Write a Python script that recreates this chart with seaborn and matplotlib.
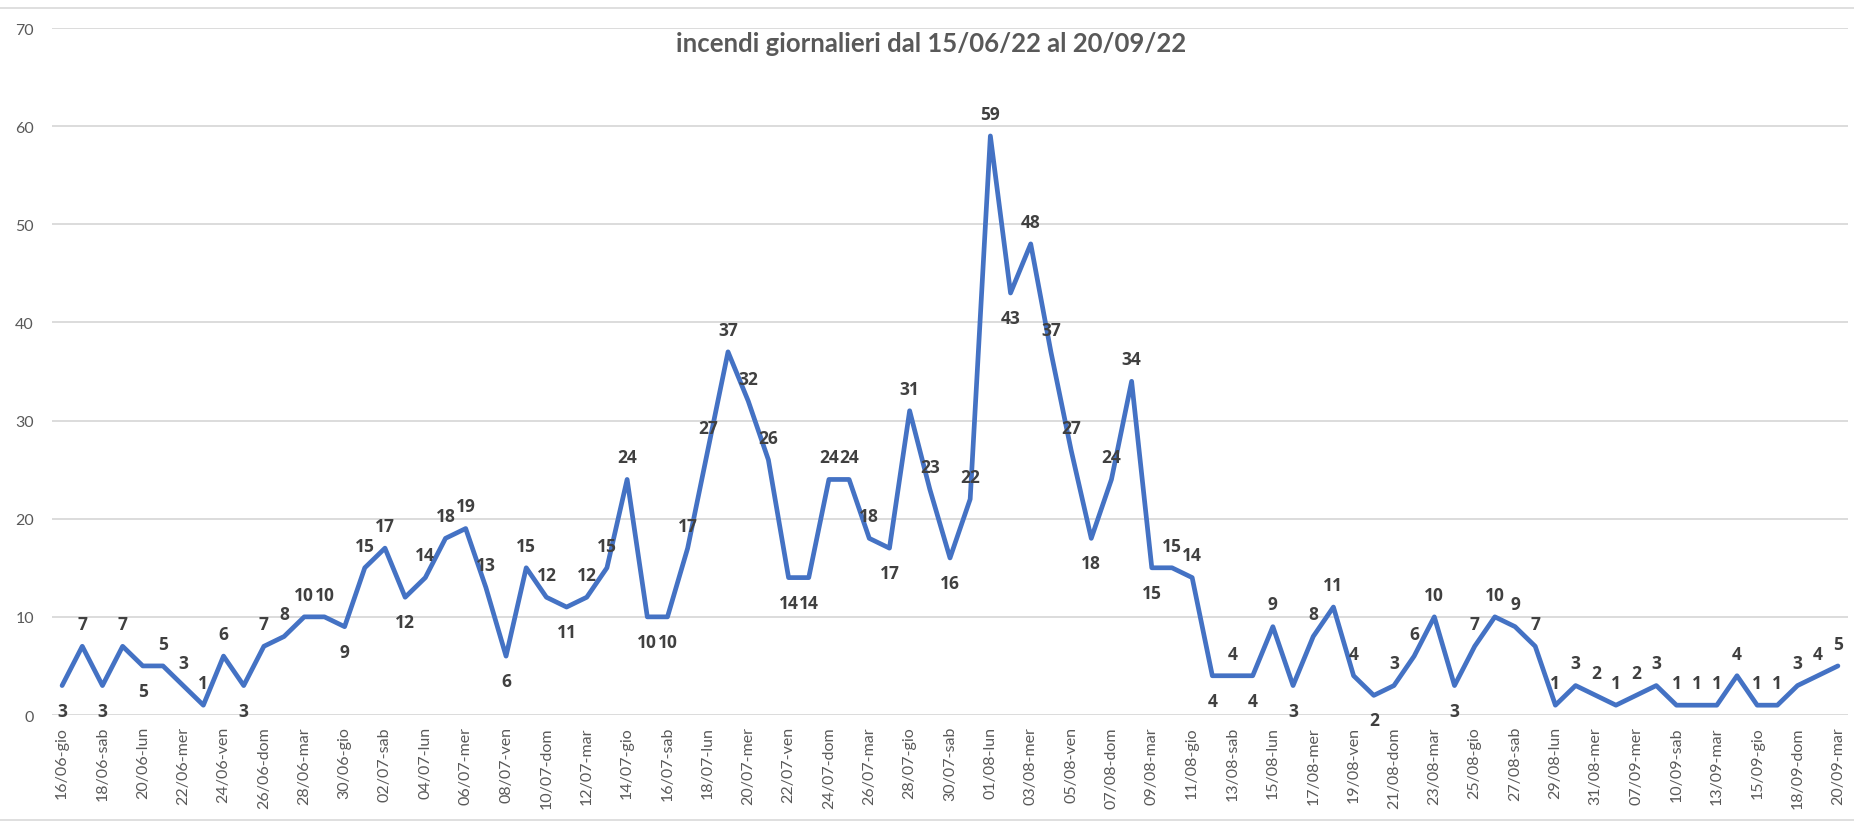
import pandas as pd
import seaborn as sns
import matplotlib.pyplot as plt
from matplotlib.lines import Line2D

# giorni (etichette asse x)
giorni = [
    "16/06-gio", "17/06-ven", "18/06-sab", "19/06-dom", "20/06-lun", "21/06-mar", "22/06-mer",
    "23/06-gio", "24/06-ven", "25/06-sab", "26/06-dom", "27/06-lun", "28/06-mar", "29/06-mer",
    "30/06-gio",
    "01/07-ven", "02/07-sab", "03/07-dom", "04/07-lun", "05/07-mar", "06/07-mer", "07/07-gio",
    "08/07-ven", "09/07-sab", "10/07-dom", "11/07-lun", "12/07-mar", "13/07-mer", "14/07-gio",
    "15/07-ven", "16/07-sab", "17/07-dom", "18/07-lun", "19/07-mar", "20/07-mer", "21/07-gio",
    "22/07-ven", "23/07-sab", "24/07-dom", "25/07-lun", "26/07-mar", "27/07-mer", "28/07-gio",
    "29/07-ven", "30/07-sab", "31/07-dom",
    "01/08-lun", "02/08-mar", "03/08-mer", "04/08-gio", "05/08-ven", "06/08-sab", "07/08-dom",
    "08/08-lun", "09/08-mar", "10/08-mer", "11/08-gio", "12/08-ven", "13/08-sab", "14/08-dom",
    "15/08-lun", "16/08-mar", "17/08-mer", "18/08-gio", "19/08-ven", "20/08-sab", "21/08-dom",
    "22/08-lun", "23/08-mar", "24/08-mer", "25/08-gio", "26/08-ven", "27/08-sab", "28/08-dom",
    "29/08-lun", "30/08-mar", "31/08-mer",
    "06/09-mar", "07/09-mer", "09/09-ven", "10/09-sab", "12/09-lun", "13/09-mar", "14/09-mer",
    "15/09-gio", "16/09-ven", "18/09-dom", "19/09-lun", "20/09-mar",
]

# numero incendi al giorno
incendi_giugno = [3, 7, 3, 7, 5, 5, 3, 1, 6, 3, 7, 8, 10, 10, 9]
incendi_luglio = [15, 17, 12, 14, 18, 19, 13, 6, 15, 12, 11, 12, 15, 24, 10, 10, 17, 27, 37, 32,
                  26, 14, 14, 24, 24, 18, 17, 31, 23, 16, 22]
incendi_agosto = [59, 43, 48, 37, 27, 18, 24, 34, 15, 15, 14, 4, 4, 4, 9, 3, 8, 11, 4, 2, 3, 6,
                  10, 3, 7, 10, 9, 7, 1, 3, 2]
incendi_settembre = [1, 2, 3, 1, 1, 1, 4, 1, 1, 3, 4, 5]

titolo = "incendi giornalieri dal 15/06/22 al 20/09/22"

incendi = incendi_giugno + incendi_luglio + incendi_agosto + incendi_settembre
df = pd.DataFrame({"pos": range(len(giorni)), "giorno": giorni, "incendi": incendi})

sns.set_theme(style="whitegrid")
plt.rcParams["font.family"] = ["Lato", "DejaVu Sans"]

W, H = 1854, 829
fig = plt.figure(figsize=(W / 100, H / 100), dpi=100)
ax = fig.add_axes([52 / W, 1 - 716 / H, (1848 - 52) / W, (716 - 29) / H])

sns.lineplot(data=df, x="pos", y="incendi", ax=ax, color="#4472C4", linewidth=3.4)

ax.set_xlim(-0.5, len(giorni) - 0.5)
ax.set_ylim(0, 70)
ax.set_yticks(range(0, 71, 10))
ax.set_xticks(df["pos"][::2])
ax.set_xticklabels(df["giorno"][::2], rotation=90, fontsize=11.5, color="#595959")
ax.tick_params(axis="y", labelsize=11.5, labelcolor="#595959", length=0, pad=13)
ax.tick_params(axis="x", length=0, pad=8)
ax.set_xlabel("")
ax.set_ylabel("")
ax.grid(axis="x", visible=False)
ax.grid(axis="y", color="#D9D9D9", linewidth=1.3)
for s in ax.spines.values():
    s.set_visible(False)

# etichette dei valori: sotto nei minimi, sopra altrove
n = len(incendi)
for i, v in enumerate(incendi):
    prev = incendi[i - 1] if i > 0 else v + 1
    nxt = incendi[i + 1] if i < n - 1 else v + 1
    sotto = v <= prev and v <= nxt and (v < prev or v < nxt) and v > 1
    dy = -18 if sotto else 16
    ax.annotate(str(v), (i, v), xytext=(0, dy), textcoords="offset points",
                ha="center", va="center", fontsize=12.5, fontweight="bold", color="#404040",
                family=["Open Sans", "DejaVu Sans"])

fig.text(931 / W, 1 - 44 / H, titolo, ha="center", va="center",
         fontsize=18.5, fontweight="bold", color="#595959")

# bordo area grafico
fig.add_artist(Line2D([0, 1], [1 - 9 / H] * 2, color="#D9D9D9", linewidth=1.2))
fig.add_artist(Line2D([0, 1], [1 - 821 / H] * 2, color="#D9D9D9", linewidth=1.2))

fig.savefig("out.png", dpi=100, facecolor="white")
